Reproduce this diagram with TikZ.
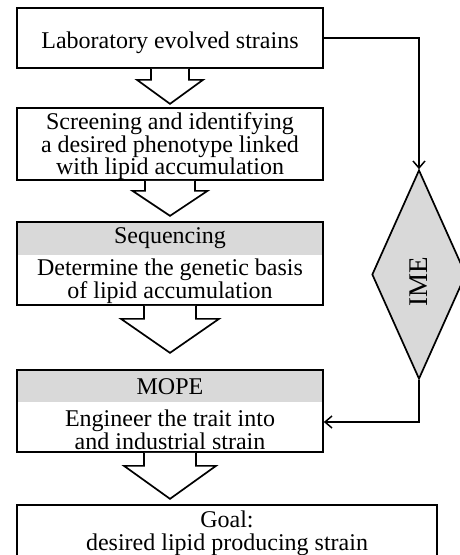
\documentclass[tikz,border=0pt]{standalone}
\usepackage{fontspec}
\setmainfont{Liberation Serif}
\usetikzlibrary{shapes.geometric,arrows.meta,calc}
\definecolor{hdr}{RGB}{217,217,217}
\newcommand\blockarr[5]{%
  \draw[fill=white] ($(#1.south)+(-#2,0)$) -- ($(#1.south)+(-#2,#4)$) -- ($(#1.south)+(-#3,#4)$)
    -- ($(#1.south)+(0,#4+#5)$) -- ($(#1.south)+(#3,#4)$) -- ($(#1.south)+(#2,#4)$) -- ($(#1.south)+(#2,0)$);}
\begin{document}
\begin{tikzpicture}[x=1pt,y=-1pt,
  line width=1.7pt,
  fnt/.style={font=\fontsize{24}{22.5}\selectfont},
  tight/.style={font=\fontsize{24}{20.5}\selectfont},
  box/.style={draw, rectangle, inner sep=0pt, minimum width=306pt},
  hdrbox/.style={fill=hdr, rectangle, inner sep=0pt, minimum width=306pt},
  txt/.style={inner sep=0pt, align=center, fnt},
  arr/.style={line width=1.5pt, -{Straight Barb[length=7pt,width=12pt]}},
  ]
\useasboundingbox (0,0) rectangle (460,555);
\clip (0,0) rectangle (460,555);
\fill[white] (0,0) rectangle (460,555);

% box 1
\node[box, minimum height=60pt] (b1) at (170,38) {};
\node[txt, anchor=base] (t1) at (170,48.5) {Laboratory evolved strains};

% box 2
\node[box, minimum height=72pt] (b2) at (170,144) {};
\node[txt] (t2) at (170,146.4) {Screening and identifying\\a desired phenotype linked\\with lipid accumulation};

% box 3
\node[hdrbox, minimum height=33pt] (h3) at (170,238.5) {};
\node[box, minimum height=83pt] (b3) at (170,263.5) {};
\node[txt, anchor=base] (s3) at (170,243) {Sequencing};
\node[txt, tight] (t3) at (170,281.6) {Determine the genetic basis\\of lipid accumulation};

% box 4
\node[hdrbox, minimum height=32pt] (h4) at (170,386) {};
\node[box, minimum height=82pt] (b4) at (170,411) {};
\node[txt, anchor=base] (s4) at (170,394) {MOPE};
\node[txt, tight] (t4) at (170,429.5) {Engineer the trait into\\and industrial strain};

% box 5
\node[box, minimum width=420pt, minimum height=70pt] (b5) at (227,540) {};
\node[txt] (g5) at (227,533.1) {Goal:\\desired lipid producing strain};

% block arrows
\blockarr{b1}{19}{33}{11}{24}
\blockarr{b2}{25}{37.5}{10}{25}
\blockarr{b3}{26}{49}{13}{34}
\blockarr{b4}{26}{46}{13}{33}

% IME diamond
\node[diamond, draw, fill=hdr, minimum width=94pt, minimum height=209pt, inner sep=0pt] (ime) at (419,274.5) {};
\node[rotate=90, font=\fontsize{27}{27}\selectfont, inner sep=0pt] (imet) at (419,282) {IME};

% connectors
\draw[arr] (b1.east) -| (ime.north);
\draw[arr] (ime.south) |- ([yshift=-11pt]b4.east);
\end{tikzpicture}
\end{document}
